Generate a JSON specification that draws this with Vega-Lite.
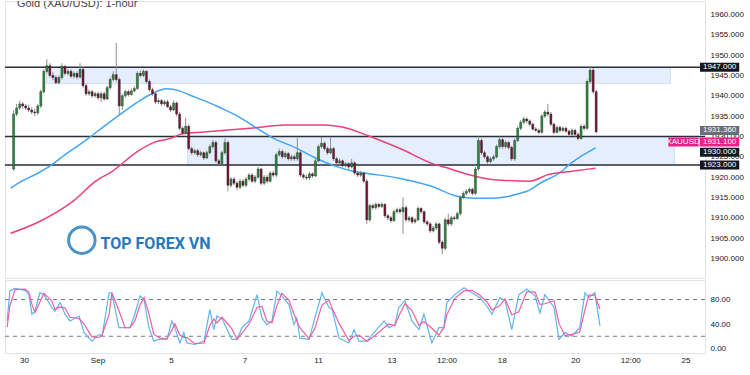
{
  "$schema": "https://vega.github.io/schema/vega-lite/v6.json",
  "background": "white",
  "padding": {"left": 3, "top": 0, "right": 0, "bottom": 0},
  "spacing": 0,
  "config": {
    "view": {"stroke": "#e0e3eb", "strokeWidth": 1},
    "axis": {"grid": false, "ticks": false, "domain": false, "labelFont": "Liberation Sans", "labelFontSize": 8, "labelColor": "#131722", "labelPadding": 5, "labelOverlap": false},
    "axisY": {"labelOverlap": false},
    "axisRight": {"labelOverlap": false}
  },
  "datasets": {
    "candles": [
      {"i":-5,"o":1922,"h":1936.5,"l":1921.5,"c":1935.5},
      {"i":-4,"o":1935.5,"h":1938,"l":1935,"c":1937},
      {"i":-3,"o":1937,"h":1938.8,"l":1936.5,"c":1938},
      {"i":-2,"o":1938,"h":1938.5,"l":1936.8,"c":1937.5},
      {"i":-1,"o":1937.5,"h":1938,"l":1936.5,"c":1937},
      {"i":0,"o":1937,"h":1937.8,"l":1936,"c":1936.5},
      {"i":1,"o":1936.5,"h":1937.2,"l":1935.5,"c":1936},
      {"i":2,"o":1936,"h":1936.8,"l":1935,"c":1935.8},
      {"i":3,"o":1935.8,"h":1938,"l":1935.3,"c":1937.5},
      {"i":4,"o":1937.5,"h":1941.5,"l":1937,"c":1941},
      {"i":5,"o":1941,"h":1946.5,"l":1940.5,"c":1946},
      {"i":6,"o":1946,"h":1949,"l":1945.5,"c":1947.4},
      {"i":7,"o":1947.4,"h":1948,"l":1944.5,"c":1945},
      {"i":8,"o":1945,"h":1945.8,"l":1943.8,"c":1944.5},
      {"i":9,"o":1944.5,"h":1945,"l":1942.8,"c":1943.2},
      {"i":10,"o":1943.2,"h":1945,"l":1942.8,"c":1944.5},
      {"i":11,"o":1944.5,"h":1948,"l":1944,"c":1947.2},
      {"i":12,"o":1947.2,"h":1947.6,"l":1945,"c":1945.5},
      {"i":13,"o":1945.5,"h":1946.6,"l":1945,"c":1946},
      {"i":14,"o":1946,"h":1946.5,"l":1944.3,"c":1944.8},
      {"i":15,"o":1944.8,"h":1946,"l":1944.2,"c":1945.5},
      {"i":16,"o":1945.5,"h":1946,"l":1944,"c":1944.6},
      {"i":17,"o":1944.6,"h":1948,"l":1944.2,"c":1946.5},
      {"i":18,"o":1946.5,"h":1947,"l":1942,"c":1942.5},
      {"i":19,"o":1942.5,"h":1943,"l":1940,"c":1940.5},
      {"i":20,"o":1940.5,"h":1941.6,"l":1940,"c":1941},
      {"i":21,"o":1941,"h":1941.5,"l":1939.5,"c":1940},
      {"i":22,"o":1940,"h":1941,"l":1939.6,"c":1940.5},
      {"i":23,"o":1940.5,"h":1941,"l":1939,"c":1939.5},
      {"i":24,"o":1939.5,"h":1941,"l":1938.5,"c":1940.5},
      {"i":25,"o":1940.5,"h":1941,"l":1938.8,"c":1939.2},
      {"i":26,"o":1939.2,"h":1942.5,"l":1939,"c":1942},
      {"i":27,"o":1942,"h":1944.5,"l":1941.5,"c":1944},
      {"i":28,"o":1944,"h":1946,"l":1943.5,"c":1945.2},
      {"i":29,"o":1945.2,"h":1953,"l":1943.5,"c":1944},
      {"i":30,"o":1944,"h":1944.5,"l":1935,"c":1937.5},
      {"i":31,"o":1937.5,"h":1940.5,"l":1936.5,"c":1940},
      {"i":32,"o":1940,"h":1941.5,"l":1939.5,"c":1941},
      {"i":33,"o":1941,"h":1941.5,"l":1939.8,"c":1940.3},
      {"i":34,"o":1940.3,"h":1941.8,"l":1940,"c":1941.2},
      {"i":35,"o":1941.2,"h":1942.3,"l":1940.8,"c":1941.8},
      {"i":36,"o":1941.8,"h":1946,"l":1941.5,"c":1945.5},
      {"i":37,"o":1945.5,"h":1946.2,"l":1944.5,"c":1945},
      {"i":38,"o":1945,"h":1946.5,"l":1944.6,"c":1946},
      {"i":39,"o":1946,"h":1946.3,"l":1943,"c":1943.5},
      {"i":40,"o":1943.5,"h":1944,"l":1941,"c":1941.5},
      {"i":41,"o":1941.5,"h":1942,"l":1940,"c":1940.5},
      {"i":42,"o":1940.5,"h":1941,"l":1938,"c":1938.5},
      {"i":43,"o":1938.5,"h":1939.3,"l":1938,"c":1938.8},
      {"i":44,"o":1938.8,"h":1939.2,"l":1937.5,"c":1938},
      {"i":45,"o":1938,"h":1939,"l":1937.6,"c":1938.5},
      {"i":46,"o":1938.5,"h":1939,"l":1937,"c":1937.3},
      {"i":47,"o":1937.3,"h":1937.8,"l":1936,"c":1936.5},
      {"i":48,"o":1936.5,"h":1938.8,"l":1936.2,"c":1938.2},
      {"i":49,"o":1938.2,"h":1938.6,"l":1935,"c":1935.5},
      {"i":50,"o":1935.5,"h":1936,"l":1931.5,"c":1932},
      {"i":51,"o":1932,"h":1932.5,"l":1930.3,"c":1930.8},
      {"i":52,"o":1930.8,"h":1934.6,"l":1930.5,"c":1932.5},
      {"i":53,"o":1932.5,"h":1933,"l":1926.5,"c":1927},
      {"i":54,"o":1927,"h":1927.5,"l":1925.5,"c":1926},
      {"i":55,"o":1926,"h":1927,"l":1925.5,"c":1926.5},
      {"i":56,"o":1926.5,"h":1927,"l":1925,"c":1925.5},
      {"i":57,"o":1925.5,"h":1926.5,"l":1925,"c":1926},
      {"i":58,"o":1926,"h":1926.3,"l":1924.2,"c":1924.7},
      {"i":59,"o":1924.7,"h":1926.5,"l":1924.4,"c":1926},
      {"i":60,"o":1926,"h":1928,"l":1925.6,"c":1927.5},
      {"i":61,"o":1927.5,"h":1929.2,"l":1927,"c":1928.5},
      {"i":62,"o":1928.5,"h":1929,"l":1923.5,"c":1924},
      {"i":63,"o":1924,"h":1924.5,"l":1922.8,"c":1923.3},
      {"i":64,"o":1923.3,"h":1926.5,"l":1923,"c":1926},
      {"i":65,"o":1926,"h":1929.5,"l":1925.5,"c":1928.5},
      {"i":66,"o":1928.5,"h":1929,"l":1916.5,"c":1918},
      {"i":67,"o":1918,"h":1920,"l":1917.5,"c":1919.5},
      {"i":68,"o":1919.5,"h":1920,"l":1918,"c":1918.5},
      {"i":69,"o":1918.5,"h":1919,"l":1916.8,"c":1917.5},
      {"i":70,"o":1917.5,"h":1919.5,"l":1917,"c":1919},
      {"i":71,"o":1919,"h":1919.5,"l":1917.5,"c":1918},
      {"i":72,"o":1918,"h":1920,"l":1917.5,"c":1919.5},
      {"i":73,"o":1919.5,"h":1921,"l":1919,"c":1920.5},
      {"i":74,"o":1920.5,"h":1921,"l":1918.5,"c":1919},
      {"i":75,"o":1919,"h":1920.5,"l":1918.5,"c":1920},
      {"i":76,"o":1920,"h":1922.5,"l":1919.6,"c":1922},
      {"i":77,"o":1922,"h":1922.3,"l":1918,"c":1918.5},
      {"i":78,"o":1918.5,"h":1920.5,"l":1918,"c":1920},
      {"i":79,"o":1920,"h":1920.5,"l":1918.5,"c":1919},
      {"i":80,"o":1919,"h":1921.5,"l":1918.6,"c":1921},
      {"i":81,"o":1921,"h":1921.6,"l":1920,"c":1920.5},
      {"i":82,"o":1920.5,"h":1926,"l":1920,"c":1925.5},
      {"i":83,"o":1925.5,"h":1927,"l":1925,"c":1926.3},
      {"i":84,"o":1926.3,"h":1926.8,"l":1924.5,"c":1925},
      {"i":85,"o":1925,"h":1926.3,"l":1924.6,"c":1925.8},
      {"i":86,"o":1925.8,"h":1926.2,"l":1924,"c":1924.5},
      {"i":87,"o":1924.5,"h":1925.5,"l":1924,"c":1925},
      {"i":88,"o":1925,"h":1925.5,"l":1924,"c":1924.5},
      {"i":89,"o":1924.5,"h":1929.6,"l":1924,"c":1926},
      {"i":90,"o":1926,"h":1926.5,"l":1920,"c":1920.5},
      {"i":91,"o":1920.5,"h":1921,"l":1919.5,"c":1920},
      {"i":92,"o":1920,"h":1920.6,"l":1919.2,"c":1919.8},
      {"i":93,"o":1919.8,"h":1921.3,"l":1919.4,"c":1920.8},
      {"i":94,"o":1920.8,"h":1921.2,"l":1919.8,"c":1920.3},
      {"i":95,"o":1920.3,"h":1924.5,"l":1920,"c":1924},
      {"i":96,"o":1924,"h":1928,"l":1923.6,"c":1927.5},
      {"i":97,"o":1927.5,"h":1929.8,"l":1927,"c":1928.3},
      {"i":98,"o":1928.3,"h":1928.8,"l":1926.5,"c":1927},
      {"i":99,"o":1927,"h":1927.5,"l":1925.5,"c":1926},
      {"i":100,"o":1926,"h":1929.7,"l":1925.6,"c":1927},
      {"i":101,"o":1927,"h":1927.4,"l":1924,"c":1924.5},
      {"i":102,"o":1924.5,"h":1925,"l":1923,"c":1923.5},
      {"i":103,"o":1923.5,"h":1924.6,"l":1923,"c":1924},
      {"i":104,"o":1924,"h":1924.3,"l":1922.3,"c":1922.8},
      {"i":105,"o":1922.8,"h":1923.8,"l":1922.4,"c":1923.3},
      {"i":106,"o":1923.3,"h":1923.7,"l":1922,"c":1922.5},
      {"i":107,"o":1922.5,"h":1924.5,"l":1922.1,"c":1923.5},
      {"i":108,"o":1923.5,"h":1923.9,"l":1920.5,"c":1921},
      {"i":109,"o":1921,"h":1921.5,"l":1920,"c":1920.5},
      {"i":110,"o":1920.5,"h":1921.6,"l":1920,"c":1921},
      {"i":111,"o":1921,"h":1921.4,"l":1918.5,"c":1919},
      {"i":112,"o":1919,"h":1919.5,"l":1908.5,"c":1909.5},
      {"i":113,"o":1909.5,"h":1913.5,"l":1909,"c":1913},
      {"i":114,"o":1913,"h":1913.5,"l":1912,"c":1912.5},
      {"i":115,"o":1912.5,"h":1913.8,"l":1912,"c":1913.3},
      {"i":116,"o":1913.3,"h":1913.7,"l":1912.3,"c":1912.8},
      {"i":117,"o":1912.8,"h":1913.8,"l":1912.4,"c":1913.3},
      {"i":118,"o":1913.3,"h":1913.6,"l":1910,"c":1910.5},
      {"i":119,"o":1910.5,"h":1911,"l":1909.5,"c":1910},
      {"i":120,"o":1910,"h":1910.5,"l":1908.8,"c":1909.3},
      {"i":121,"o":1909.3,"h":1912,"l":1909,"c":1911.5},
      {"i":122,"o":1911.5,"h":1912.5,"l":1911,"c":1912},
      {"i":123,"o":1912,"h":1912.5,"l":1911,"c":1911.5},
      {"i":124,"o":1911.5,"h":1915,"l":1906,"c":1912.5},
      {"i":125,"o":1912.5,"h":1913,"l":1909,"c":1909.5},
      {"i":126,"o":1909.5,"h":1910.5,"l":1909,"c":1910},
      {"i":127,"o":1910,"h":1910.4,"l":1908.5,"c":1909},
      {"i":128,"o":1909,"h":1910,"l":1908.6,"c":1909.5},
      {"i":129,"o":1909.5,"h":1912.8,"l":1909.2,"c":1912.3},
      {"i":130,"o":1912.3,"h":1912.6,"l":1911,"c":1911.5},
      {"i":131,"o":1911.5,"h":1911.8,"l":1908.5,"c":1909},
      {"i":132,"o":1909,"h":1909.5,"l":1908,"c":1908.5},
      {"i":133,"o":1908.5,"h":1909,"l":1906.3,"c":1906.8},
      {"i":134,"o":1906.8,"h":1908,"l":1906.4,"c":1907.5},
      {"i":135,"o":1907.5,"h":1909,"l":1907,"c":1908.5},
      {"i":136,"o":1908.5,"h":1908.8,"l":1903.5,"c":1904},
      {"i":137,"o":1904,"h":1904.5,"l":1901,"c":1902.5},
      {"i":138,"o":1902.5,"h":1910,"l":1902,"c":1909.5},
      {"i":139,"o":1909.5,"h":1911,"l":1908,"c":1908.5},
      {"i":140,"o":1908.5,"h":1910.5,"l":1908,"c":1910},
      {"i":141,"o":1910,"h":1910.5,"l":1909.3,"c":1909.8},
      {"i":142,"o":1909.8,"h":1911.5,"l":1909.5,"c":1911},
      {"i":143,"o":1911,"h":1915.5,"l":1910.6,"c":1915},
      {"i":144,"o":1915,"h":1916.5,"l":1914.6,"c":1916},
      {"i":145,"o":1916,"h":1917,"l":1915.5,"c":1916.5},
      {"i":146,"o":1916.5,"h":1917.5,"l":1916,"c":1917},
      {"i":147,"o":1917,"h":1917.4,"l":1915.5,"c":1916},
      {"i":148,"o":1916,"h":1922.5,"l":1915.6,"c":1922},
      {"i":149,"o":1922,"h":1930,"l":1921.5,"c":1929},
      {"i":150,"o":1929,"h":1929.5,"l":1925.5,"c":1926},
      {"i":151,"o":1926,"h":1926.5,"l":1924.5,"c":1925},
      {"i":152,"o":1925,"h":1925.4,"l":1923.3,"c":1923.8},
      {"i":153,"o":1923.8,"h":1925,"l":1923.4,"c":1924.5},
      {"i":154,"o":1924.5,"h":1925.5,"l":1924,"c":1925},
      {"i":155,"o":1925,"h":1928,"l":1924.6,"c":1927.5},
      {"i":156,"o":1927.5,"h":1930,"l":1927,"c":1929.2},
      {"i":157,"o":1929.2,"h":1929.6,"l":1927,"c":1927.5},
      {"i":158,"o":1927.5,"h":1929,"l":1927,"c":1928.5},
      {"i":159,"o":1928.5,"h":1928.9,"l":1926.8,"c":1927.3},
      {"i":160,"o":1927.3,"h":1927.7,"l":1924,"c":1924.5},
      {"i":161,"o":1924.5,"h":1929.5,"l":1924,"c":1929},
      {"i":162,"o":1929,"h":1932.5,"l":1928.6,"c":1932},
      {"i":163,"o":1932,"h":1934,"l":1931.5,"c":1933.5},
      {"i":164,"o":1933.5,"h":1934.8,"l":1933,"c":1934.3},
      {"i":165,"o":1934.3,"h":1934.7,"l":1933.3,"c":1933.8},
      {"i":166,"o":1933.8,"h":1934.2,"l":1932.6,"c":1933},
      {"i":167,"o":1933,"h":1933.4,"l":1931.4,"c":1931.8},
      {"i":168,"o":1931.8,"h":1932.3,"l":1931,"c":1931.5},
      {"i":169,"o":1931.5,"h":1931.9,"l":1930.6,"c":1931},
      {"i":170,"o":1931,"h":1935.5,"l":1930.7,"c":1935},
      {"i":171,"o":1935,"h":1936.5,"l":1934.5,"c":1936},
      {"i":172,"o":1936,"h":1938,"l":1935,"c":1935.5},
      {"i":173,"o":1935.5,"h":1936,"l":1932.5,"c":1933},
      {"i":174,"o":1933,"h":1933.4,"l":1930.6,"c":1931},
      {"i":175,"o":1931,"h":1932.7,"l":1930.7,"c":1932.2},
      {"i":176,"o":1932.2,"h":1932.6,"l":1931,"c":1931.5},
      {"i":177,"o":1931.5,"h":1932.5,"l":1931.1,"c":1932},
      {"i":178,"o":1932,"h":1932.4,"l":1930.9,"c":1931.3},
      {"i":179,"o":1931.3,"h":1931.7,"l":1930,"c":1930.5},
      {"i":180,"o":1930.5,"h":1932,"l":1930.1,"c":1931.5},
      {"i":181,"o":1931.5,"h":1931.9,"l":1930,"c":1930.5},
      {"i":182,"o":1930.5,"h":1931,"l":1929,"c":1929.5},
      {"i":183,"o":1929.5,"h":1933,"l":1929.2,"c":1932.5},
      {"i":184,"o":1932.5,"h":1933,"l":1931.5,"c":1932},
      {"i":185,"o":1932,"h":1944,"l":1931.6,"c":1943.5},
      {"i":186,"o":1943.5,"h":1947.4,"l":1943,"c":1946.3},
      {"i":187,"o":1946.3,"h":1946.8,"l":1940.5,"c":1941},
      {"i":188,"o":1941,"h":1941.5,"l":1930.8,"c":1931.1}
    ],
    "ma": [
      {"s":"fast","i":-6.0,"p":1917.3},{"s":"fast","i":-2.3,"p":1919.0},{"s":"fast","i":3.6,"p":1921.2},{"s":"fast","i":5.9,"p":1922.2},
      {"s":"fast","i":12.4,"p":1925.7},{"s":"fast","i":19.9,"p":1929.6},{"s":"fast","i":25.5,"p":1932.8},{"s":"fast","i":31.0,"p":1935.8},
      {"s":"fast","i":36.2,"p":1938.5},{"s":"fast","i":40.8,"p":1940.5},{"s":"fast","i":45.7,"p":1941.7},{"s":"fast","i":50.0,"p":1941.2},
      {"s":"fast","i":53.9,"p":1940.0},{"s":"fast","i":58.1,"p":1938.8},{"s":"fast","i":63.7,"p":1937.0},{"s":"fast","i":68.9,"p":1935.1},
      {"s":"fast","i":74.4,"p":1932.6},{"s":"fast","i":81.0,"p":1929.6},{"s":"fast","i":88.5,"p":1927.2},{"s":"fast","i":95.0,"p":1924.7},
      {"s":"fast","i":101.6,"p":1922.7},{"s":"fast","i":106.1,"p":1921.7},{"s":"fast","i":111.3,"p":1921.0},{"s":"fast","i":122.4,"p":1919.8},
      {"s":"fast","i":133.2,"p":1917.8},{"s":"fast","i":142.0,"p":1915.3},{"s":"fast","i":147.9,"p":1914.8},{"s":"fast","i":152.8,"p":1914.8},
      {"s":"fast","i":157.7,"p":1915.1},{"s":"fast","i":161.6,"p":1915.8},{"s":"fast","i":165.9,"p":1916.8},{"s":"fast","i":170.1,"p":1918.8},
      {"s":"fast","i":174.0,"p":1920.2},{"s":"fast","i":176.7,"p":1921.5},{"s":"fast","i":178.9,"p":1923.0},{"s":"fast","i":183.2,"p":1925.2},
      {"s":"fast","i":187.8,"p":1927.2},
      {"s":"slow","i":-6.0,"p":1906.2},{"s":"slow","i":3.6,"p":1909.1},{"s":"slow","i":14.7,"p":1914.1},{"s":"slow","i":22.2,"p":1919.0},
      {"s":"slow","i":27.8,"p":1921.5},{"s":"slow","i":36.2,"p":1926.4},{"s":"slow","i":41.8,"p":1928.6},{"s":"slow","i":47.3,"p":1929.6},
      {"s":"slow","i":50.6,"p":1930.6},{"s":"slow","i":58.1,"p":1931.1},{"s":"slow","i":74.4,"p":1932.1},{"s":"slow","i":85.2,"p":1932.8},
      {"s":"slow","i":97.3,"p":1932.8},{"s":"slow","i":106.1,"p":1931.9},{"s":"slow","i":112.7,"p":1930.1},{"s":"slow","i":123.4,"p":1926.9},
      {"s":"slow","i":134.2,"p":1923.2},{"s":"slow","i":139.8,"p":1922.0},{"s":"slow","i":145.3,"p":1920.7},{"s":"slow","i":152.8,"p":1919.5},
      {"s":"slow","i":165.9,"p":1919.0},{"s":"slow","i":172.4,"p":1920.7},{"s":"slow","i":180.6,"p":1921.5},{"s":"slow","i":187.8,"p":1922.2}
    ],
    "stoch": [
      {"i":-5.5,"k":45,"d":35},{"i":-4.6,"k":94,"d":70},{"i":-2.9,"k":98,"d":96},{"i":0.3,"k":95,"d":97},{"i":1.6,"k":88,"d":92},
      {"i":2.6,"k":56,"d":72},{"i":3.6,"k":61,"d":59},{"i":5.2,"k":91,"d":76},{"i":6.5,"k":88,"d":90},{"i":9.1,"k":67,"d":78},
      {"i":10.1,"k":61,"d":64},{"i":11.8,"k":75,"d":68},{"i":13.4,"k":56,"d":66},{"i":15.0,"k":45,"d":51},{"i":18.0,"k":53,"d":49},
      {"i":19.6,"k":26,"d":40},{"i":22.2,"k":12,"d":19},{"i":24.5,"k":23,"d":18},{"i":25.5,"k":20,"d":22},{"i":27.8,"k":91,"d":56},
      {"i":28.7,"k":91,"d":91},{"i":31.0,"k":34,"d":62},{"i":33.0,"k":34,"d":34},{"i":34.6,"k":34,"d":34},{"i":36.2,"k":56,"d":45},
      {"i":37.9,"k":86,"d":71},{"i":39.2,"k":80,"d":83},{"i":40.8,"k":34,"d":57},{"i":42.4,"k":12,"d":23},{"i":45.1,"k":17,"d":15},
      {"i":46.7,"k":15,"d":16},{"i":48.3,"k":45,"d":30},{"i":49.3,"k":34,"d":40},{"i":50.9,"k":9,"d":22},{"i":52.2,"k":26,"d":18},
      {"i":53.2,"k":9,"d":18},{"i":55.8,"k":6.6,"d":8},{"i":58.8,"k":12,"d":9},{"i":60.7,"k":64,"d":38},{"i":62.0,"k":31,"d":48},
      {"i":63.0,"k":53,"d":42},{"i":64.7,"k":48,"d":51},{"i":67.9,"k":15,"d":32},{"i":69.6,"k":15,"d":15},{"i":71.2,"k":34,"d":25},
      {"i":73.5,"k":45,"d":40},{"i":76.1,"k":88,"d":67},{"i":77.7,"k":50,"d":69},{"i":79.3,"k":39,"d":45},{"i":81.0,"k":45,"d":42},
      {"i":82.6,"k":94,"d":70},{"i":84.2,"k":86,"d":90},{"i":86.5,"k":72,"d":79},{"i":88.2,"k":39,"d":56},{"i":89.1,"k":50,"d":45},
      {"i":90.1,"k":17,"d":34},{"i":93.1,"k":15,"d":16},{"i":95.0,"k":50,"d":33},{"i":97.3,"k":91,"d":71},{"i":99.6,"k":67,"d":79},
      {"i":100.6,"k":64,"d":66},{"i":102.9,"k":17,"d":41},{"i":106.1,"k":9,"d":13},{"i":107.8,"k":31,"d":20},{"i":109.4,"k":12,"d":22},
      {"i":112.0,"k":12,"d":12},{"i":113.6,"k":22,"d":17},{"i":117.6,"k":45,"d":34},{"i":119.2,"k":34,"d":40},{"i":121.1,"k":39,"d":37},
      {"i":122.4,"k":67,"d":53},{"i":124.4,"k":78,"d":73},{"i":126.7,"k":45,"d":62},{"i":129.0,"k":31,"d":38},{"i":130.6,"k":56,"d":44},
      {"i":133.2,"k":9,"d":33},{"i":135.5,"k":34,"d":22},{"i":137.1,"k":34,"d":34},{"i":138.1,"k":75,"d":55},{"i":140.7,"k":88,"d":82},
      {"i":143.7,"k":99,"d":94},{"i":146.3,"k":91,"d":95},{"i":148.9,"k":83,"d":87},{"i":151.2,"k":69,"d":76},{"i":152.8,"k":56,"d":63},
      {"i":155.4,"k":83,"d":70},{"i":157.1,"k":78,"d":81},{"i":159.3,"k":31,"d":55},{"i":161.6,"k":88,"d":60},{"i":164.2,"k":97,"d":93},
      {"i":166.9,"k":86,"d":92},{"i":168.5,"k":58,"d":72},{"i":170.1,"k":88,"d":73},{"i":173.1,"k":67,"d":78},{"i":174.7,"k":15,"d":41},
      {"i":176.7,"k":26,"d":21},{"i":178.9,"k":20,"d":23},{"i":181.5,"k":34,"d":27},{"i":183.2,"k":91,"d":63},{"i":184.5,"k":83,"d":87},
      {"i":186.4,"k":91,"d":87},{"i":188.1,"k":37,"d":64}
    ],
    "levels": [{"v":1947},{"v":1930},{"v":1923}],
    "zones": [{"a":5.9,"b":212.6,"lo":1943,"hi":1947},{"a":52.6,"b":213.9,"lo":1923,"hi":1930}],
    "tags": [
      {"v":1947,"label":"1947.000","kind":"line"},
      {"v":1923,"label":"1923.000","kind":"line"},
      {"v":1930,"label":"1930.000","kind":"line2"},
      {"v":1931.36,"label":"1931.360","kind":"bid"},
      {"v":1931.1,"label":"1931.100","kind":"last"}
    ]
  },
  "vconcat": [
    {
      "width": 700,
      "height": 277,
      "resolve": {"axis": {"x": "independent", "y": "independent"}},
      "layer": [
        {
          "data": {"name": "zones"},
          "mark": {"type": "rect", "fill": "#e4eefc", "stroke": "#cddff7", "strokeWidth": 1},
          "encoding": {
            "x": {"field": "a", "type": "quantitative", "scale": {"domain": [-6.2, 222.4], "nice": false, "zero": false}, "axis": null},
            "x2": {"field": "b"},
            "y": {"field": "hi", "type": "quantitative", "scale": {"domain": [1895.2, 1963.3], "nice": false, "zero": false},
                  "axis": {"orient": "right", "title": null, "labelOverlap": false, "labelPadding": 5, "values": [1900,1905,1910,1915,1920,1925,1930,1935,1940,1945,1950,1955,1960], "format": ".3f"}},
            "y2": {"field": "lo"}
          }
        },
        {
          "data": {"name": "levels"},
          "mark": {"type": "rule", "color": "#2a2e39", "strokeWidth": 1.5},
          "encoding": {"y": {"field": "v", "type": "quantitative", "axis": null}}
        },
        {
          "data": {"name": "ma"},
          "mark": {"type": "line", "strokeWidth": 1.5, "interpolate": "monotone"},
          "encoding": {
            "x": {"field": "i", "type": "quantitative", "axis": null},
            "y": {"field": "p", "type": "quantitative", "axis": null},
            "color": {"field": "s", "type": "nominal", "scale": {"domain": ["fast", "slow"], "range": ["#42a5f5", "#ec407a"]}, "legend": null}
          }
        },
        {
          "data": {"name": "candles"},
          "mark": {"type": "rule", "color": "#8f8f8f", "strokeWidth": 1},
          "encoding": {
            "x": {"field": "i", "type": "quantitative", "axis": null},
            "y": {"field": "l", "type": "quantitative", "axis": null},
            "y2": {"field": "h"}
          }
        },
        {
          "data": {"name": "candles"},
          "mark": {"type": "bar", "width": 2, "stroke": "#1a1a1a", "strokeWidth": 0.4},
          "encoding": {
            "x": {"field": "i", "type": "quantitative", "axis": null},
            "y": {"field": "o", "type": "quantitative", "axis": null},
            "y2": {"field": "c"},
            "color": {"condition": {"test": "datum.c >= datum.o", "value": "#2e8b3e"}, "value": "#7a1436"}
          }
        },
        {
          "data": {"values": [{"t": "Gold (XAU/USD): 1-hour"}]},
          "mark": {"type": "text", "align": "left", "baseline": "middle", "fontSize": 11, "font": "Liberation Sans", "color": "#434651", "clip": true},
          "encoding": {
            "x": {"datum": -3.9, "type": "quantitative", "axis": null},
            "y": {"datum": 1962.6, "type": "quantitative", "axis": null},
            "text": {"field": "t"}
          }
        },
        {
          "data": {"values": [{"t": "TOP FOREX VN"}]},
          "mark": {"type": "text", "align": "left", "baseline": "middle", "fontSize": 16, "fontWeight": "bold", "font": "Roboto", "color": "#2479bd"},
          "encoding": {
            "x": {"datum": 23.8, "type": "quantitative", "axis": null},
            "y": {"datum": 1903.6, "type": "quantitative", "axis": null},
            "text": {"field": "t"}
          }
        },
        {
          "data": {"values": [{"t": "logo"}]},
          "mark": {"type": "point", "shape": "circle", "filled": false, "stroke": "#2a7fc1", "strokeWidth": 3, "size": 700, "opacity": 0.85},
          "encoding": {
            "x": {"datum": 17.6, "type": "quantitative", "axis": null},
            "y": {"datum": 1904.5, "type": "quantitative", "axis": null}
          }
        },
        {
          "data": {"name": "tags"},
          "transform": [{"filter": "datum.kind == 'line'"}],
          "layer": [
            {"mark": {"type": "rect", "fill": "#131722", "yOffset": -4.5, "y2Offset": 4.5},
             "encoding": {"x": {"datum": 222.4, "type": "quantitative", "axis": null}, "x2": {"datum": 235.4}, "y": {"field": "v", "type": "quantitative", "axis": null}, "y2": {"field": "v"}}},
            {"mark": {"type": "text", "color": "white", "fontSize": 8, "font": "Liberation Sans", "align": "center", "baseline": "middle"},
             "encoding": {"x": {"datum": 228.9, "type": "quantitative", "axis": null}, "y": {"field": "v", "type": "quantitative", "axis": null}, "text": {"field": "label"}}}
          ]
        },
        {
          "data": {"name": "tags"},
          "transform": [{"filter": "datum.kind == 'bid'"}],
          "layer": [
            {"mark": {"type": "rect", "fill": "#6a6d78", "yOffset": -5, "y2Offset": 4},
             "encoding": {"x": {"datum": 222.4, "type": "quantitative", "axis": null}, "x2": {"datum": 235.4}, "y": {"field": "v", "type": "quantitative", "axis": null}, "y2": {"field": "v"}}},
            {"mark": {"type": "text", "color": "white", "fontSize": 8, "font": "Liberation Sans", "align": "center", "baseline": "middle", "yOffset": -0.5},
             "encoding": {"x": {"datum": 228.9, "type": "quantitative", "axis": null}, "y": {"field": "v", "type": "quantitative", "axis": null}, "text": {"field": "label"}}}
          ]
        },
        {
          "data": {"name": "tags"},
          "transform": [{"filter": "datum.kind == 'last'"}],
          "layer": [
            {"mark": {"type": "rect", "fill": "#ec1e8c", "yOffset": 5.5, "y2Offset": 14.5},
             "encoding": {"x": {"datum": 211.9, "type": "quantitative", "axis": null}, "x2": {"datum": 235.4}, "y": {"field": "v", "type": "quantitative", "axis": null}, "y2": {"field": "v"}}},
            {"mark": {"type": "rule", "stroke": "white", "strokeWidth": 1, "yOffset": 5.5, "y2Offset": 14.5},
             "encoding": {"x": {"datum": 222.1, "type": "quantitative", "axis": null}, "y": {"field": "v", "type": "quantitative", "axis": null}, "y2": {"field": "v"}}},
            {"mark": {"type": "text", "color": "white", "fontSize": 8, "font": "Liberation Sans", "align": "center", "baseline": "middle", "yOffset": 10},
             "encoding": {"x": {"datum": 228.9, "type": "quantitative", "axis": null}, "y": {"field": "v", "type": "quantitative", "axis": null}, "text": {"field": "label"}}},
            {"mark": {"type": "text", "color": "white", "fontSize": 8, "font": "Liberation Sans", "align": "center", "baseline": "middle", "yOffset": 10},
             "encoding": {"x": {"datum": 216.8, "type": "quantitative", "axis": null}, "y": {"field": "v", "type": "quantitative", "axis": null}, "text": {"value": "XAUUSD"}}}
          ]
        },
        {
          "data": {"name": "tags"},
          "transform": [{"filter": "datum.kind == 'line2'"}],
          "layer": [
            {"mark": {"type": "rect", "fill": "#131722", "yOffset": 11.2, "y2Offset": 20.2},
             "encoding": {"x": {"datum": 222.4, "type": "quantitative", "axis": null}, "x2": {"datum": 235.4}, "y": {"field": "v", "type": "quantitative", "axis": null}, "y2": {"field": "v"}}},
            {"mark": {"type": "text", "color": "white", "fontSize": 8, "font": "Liberation Sans", "align": "center", "baseline": "middle", "yOffset": 15.7},
             "encoding": {"x": {"datum": 228.9, "type": "quantitative", "axis": null}, "y": {"field": "v", "type": "quantitative", "axis": null}, "text": {"field": "label"}}}
          ]
        }
      ]
    },
    {
      "width": 700,
      "height": 73,
      "resolve": {"axis": {"x": "independent", "y": "independent"}},
      "layer": [
        {
          "data": {"values": [{"b": 80}, {"b": 20}]},
          "mark": {"type": "rule", "color": "#787b86", "strokeWidth": 1, "strokeDash": [4, 4]},
          "encoding": {"y": {"field": "b", "type": "quantitative", "scale": {"domain": [-7.3, 111.8], "nice": false, "zero": false},
                             "axis": {"orient": "right", "title": null, "labelOverlap": false, "values": [0, 40, 80], "format": ".2f"}}}
        },
        {
          "data": {"name": "stoch"},
          "mark": {"type": "line", "color": "#5fb4f5", "strokeWidth": 1.2},
          "encoding": {
            "x": {"field": "i", "type": "quantitative", "scale": {"domain": [-6.2, 222.4], "nice": false, "zero": false},
                  "axis": {"title": null, "labelOverlap": false, "values": [0, 24, 48, 72, 96, 120, 138, 156, 180, 198, 216], "labelPadding": 3,
                           "labelExpr": "['30','Sep','5','7','11','13','12:00','18','20','12:00','25'][indexof([0,24,48,72,96,120,138,156,180,198,216], datum.value)]"}},
            "y": {"field": "k", "type": "quantitative", "axis": null}
          }
        },
        {
          "data": {"name": "stoch"},
          "mark": {"type": "line", "color": "#f0609e", "strokeWidth": 1.2},
          "encoding": {
            "x": {"field": "i", "type": "quantitative", "axis": null},
            "y": {"field": "d", "type": "quantitative", "axis": null}
          }
        }
      ]
    }
  ]
}
